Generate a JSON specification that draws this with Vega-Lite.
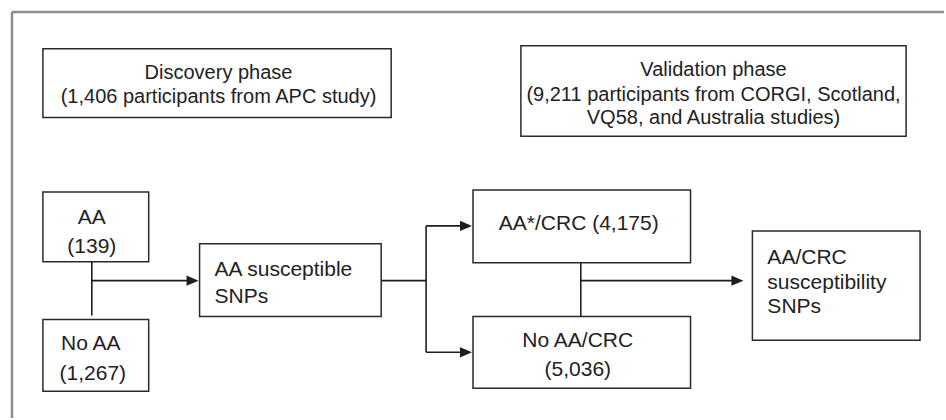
{
  "$schema": "https://vega.github.io/schema/vega-lite/v6.json",
  "width": 946,
  "height": 420,
  "autosize": {"type": "fit", "contains": "padding"},
  "padding": 0,
  "background": "white",
  "config": {"view": {"stroke": null}},
  "datasets": {
    "frame": [
      {"x": 12, "x2": 946, "y": 12, "y2": 12},
      {"x": 12, "x2": 12, "y": 12, "y2": 420}
    ],
    "boxes": [
      {"box": "Discovery phase", "x": 43, "x2": 392, "y": 49, "y2": 118},
      {"box": "Validation phase", "x": 522, "x2": 908, "y": 46, "y2": 137},
      {"box": "AA", "x": 43, "x2": 149, "y": 193, "y2": 263},
      {"box": "No AA", "x": 43, "x2": 149, "y": 321, "y2": 393},
      {"box": "AA susceptible SNPs", "x": 200, "x2": 382, "y": 245, "y2": 318},
      {"box": "AA*/CRC", "x": 474, "x2": 692, "y": 191, "y2": 264},
      {"box": "No AA/CRC", "x": 474, "x2": 692, "y": 318, "y2": 390},
      {"box": "AA/CRC susceptibility SNPs", "x": 754, "x2": 922, "y": 232, "y2": 342}
    ],
    "connectors": [
      {"x": 92, "x2": 92, "y": 263, "y2": 317},
      {"x": 92, "x2": 194, "y": 282, "y2": 282},
      {"x": 382, "x2": 427, "y": 282, "y2": 282},
      {"x": 427, "x2": 427, "y": 227, "y2": 354},
      {"x": 427, "x2": 466, "y": 227, "y2": 227},
      {"x": 427, "x2": 466, "y": 354, "y2": 354},
      {"x": 582, "x2": 582, "y": 264, "y2": 318},
      {"x": 582, "x2": 738, "y": 282, "y2": 282}
    ],
    "arrowheads": [
      {"x": 199, "y": 282},
      {"x": 473, "y": 227},
      {"x": 473, "y": 354},
      {"x": 745, "y": 282}
    ],
    "headers": [
      {"text": "Discovery phase", "x": 219, "y": 79},
      {"text": "(1,406 participants from APC study)", "x": 219, "y": 103},
      {"text": "Validation phase", "x": 715, "y": 76},
      {"text": "(9,211 participants from CORGI, Scotland,", "x": 715, "y": 101},
      {"text": "VQ58, and Australia studies)", "x": 715, "y": 125}
    ],
    "centered": [
      {"text": "AA", "x": 92, "y": 225},
      {"text": "(139)", "x": 92, "y": 254},
      {"text": "No AA", "x": 91, "y": 352},
      {"text": "(1,267)", "x": 93, "y": 382},
      {"text": "AA*/CRC (4,175)", "x": 580, "y": 231},
      {"text": "No AA/CRC", "x": 579, "y": 349},
      {"text": "(5,036)", "x": 579, "y": 378}
    ],
    "leftaligned": [
      {"text": "AA susceptible", "x": 215, "y": 277},
      {"text": "SNPs", "x": 215, "y": 304},
      {"text": "AA/CRC", "x": 769, "y": 265},
      {"text": "susceptibility", "x": 769, "y": 290},
      {"text": "SNPs", "x": 769, "y": 314}
    ]
  },
  "layer": [
    {
      "data": {"name": "frame"},
      "mark": {"type": "rule", "color": "#8c8c8c", "strokeWidth": 2.5},
      "encoding": {
        "x": {"field": "x", "type": "quantitative", "scale": {"domain": [0, 946], "nice": false, "zero": false}, "axis": null},
        "x2": {"field": "x2"},
        "y": {"field": "y", "type": "quantitative", "scale": {"domain": [0, 420], "nice": false, "zero": false, "reverse": true}, "axis": null},
        "y2": {"field": "y2"}
      }
    },
    {
      "data": {"name": "boxes"},
      "mark": {"type": "rect", "fill": "white", "stroke": "#2a2a2a", "strokeWidth": 1.5},
      "encoding": {
        "x": {"field": "x", "type": "quantitative", "scale": {"domain": [0, 946], "nice": false, "zero": false}, "axis": null},
        "x2": {"field": "x2"},
        "y": {"field": "y", "type": "quantitative", "scale": {"domain": [0, 420], "nice": false, "zero": false, "reverse": true}, "axis": null},
        "y2": {"field": "y2"}
      }
    },
    {
      "data": {"name": "connectors"},
      "mark": {"type": "rule", "color": "#1e1e1e", "strokeWidth": 1.6},
      "encoding": {
        "x": {"field": "x", "type": "quantitative", "scale": {"domain": [0, 946], "nice": false, "zero": false}, "axis": null},
        "x2": {"field": "x2"},
        "y": {"field": "y", "type": "quantitative", "scale": {"domain": [0, 420], "nice": false, "zero": false, "reverse": true}, "axis": null},
        "y2": {"field": "y2"}
      }
    },
    {
      "data": {"name": "arrowheads"},
      "mark": {"type": "point", "shape": "M 0 0 L -2 -0.85 L -2 0.85 Z", "size": 144, "filled": true, "color": "#1e1e1e", "opacity": 1, "strokeWidth": 0},
      "encoding": {
        "x": {"field": "x", "type": "quantitative", "scale": {"domain": [0, 946], "nice": false, "zero": false}, "axis": null},
        "y": {"field": "y", "type": "quantitative", "scale": {"domain": [0, 420], "nice": false, "zero": false, "reverse": true}, "axis": null}
      }
    },
    {
      "data": {"name": "headers"},
      "mark": {"type": "text", "font": "Liberation Sans", "fontSize": 20, "align": "center", "baseline": "alphabetic", "color": "#222222"},
      "encoding": {
        "x": {"field": "x", "type": "quantitative", "scale": {"domain": [0, 946], "nice": false, "zero": false}, "axis": null},
        "y": {"field": "y", "type": "quantitative", "scale": {"domain": [0, 420], "nice": false, "zero": false, "reverse": true}, "axis": null},
        "text": {"field": "text", "type": "nominal"}
      }
    },
    {
      "data": {"name": "centered"},
      "mark": {"type": "text", "font": "Liberation Sans", "fontSize": 21, "align": "center", "baseline": "alphabetic", "color": "#222222"},
      "encoding": {
        "x": {"field": "x", "type": "quantitative", "scale": {"domain": [0, 946], "nice": false, "zero": false}, "axis": null},
        "y": {"field": "y", "type": "quantitative", "scale": {"domain": [0, 420], "nice": false, "zero": false, "reverse": true}, "axis": null},
        "text": {"field": "text", "type": "nominal"}
      }
    },
    {
      "data": {"name": "leftaligned"},
      "mark": {"type": "text", "font": "Liberation Sans", "fontSize": 21, "align": "left", "baseline": "alphabetic", "color": "#222222"},
      "encoding": {
        "x": {"field": "x", "type": "quantitative", "scale": {"domain": [0, 946], "nice": false, "zero": false}, "axis": null},
        "y": {"field": "y", "type": "quantitative", "scale": {"domain": [0, 420], "nice": false, "zero": false, "reverse": true}, "axis": null},
        "text": {"field": "text", "type": "nominal"}
      }
    }
  ]
}
